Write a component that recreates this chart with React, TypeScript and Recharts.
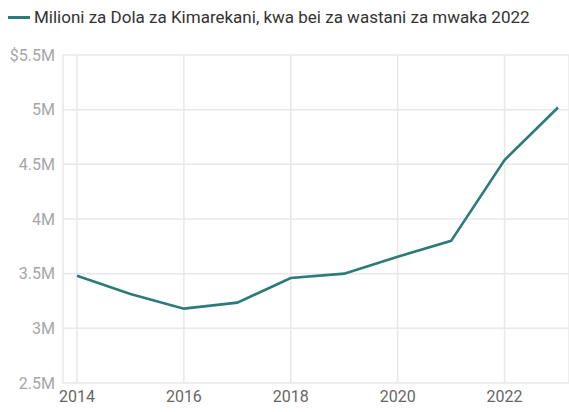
import { LineChart, Line, XAxis, YAxis, CartesianGrid, Legend } from 'recharts'

const LINE_COLOR = '#2b7b79'
const GRID_COLOR = '#e8e8e8'
const SERIES_NAME = 'Milioni za Dola za Kimarekani, kwa bei za wastani za mwaka 2022'

const years = [2014, 2015, 2016, 2017, 2018, 2019, 2020, 2021, 2022, 2023]
const values = [3.48, 3.315, 3.18, 3.235, 3.46, 3.5, 3.655, 3.8, 4.54, 5.02]
const xTicks = [2014, 2016, 2018, 2020, 2022]
const yTicks = [2.5, 3, 3.5, 4, 4.5, 5, 5.5]

const data = years.map((year, i) => ({ year, value: values[i] }))

const formatY = (v: number) => (v === 5.5 ? `$${v}M` : `${v}M`)

function LegendContent() {
  return (
    <div style={{ display: 'flex', alignItems: 'center', paddingLeft: 8, paddingTop: 2 }}>
      <div style={{ width: 22, height: 3, background: LINE_COLOR, marginRight: 4 }} />
      <span style={{ fontSize: 17, color: '#333', fontFamily: 'Roboto, sans-serif' }}>{SERIES_NAME}</span>
    </div>
  )
}

export default function App() {
  return (
    <div style={{ position: 'absolute', top: 0, left: 0, fontFamily: 'Roboto, sans-serif' }}>
      <LineChart width={569} height={412} data={data} margin={{ top: 5, right: 0, left: 0, bottom: 0 }}>
        <Legend verticalAlign="top" align="left" height={50} content={<LegendContent />} />
        <CartesianGrid stroke={GRID_COLOR} strokeWidth={1.5} />
        <XAxis
          dataKey="year" type="number" domain={[2014, 2023]} ticks={xTicks}
          padding={{ left: 14, right: 11 }} axisLine={false} tickLine={false} height={29}
          tick={{ fill: '#666', fontSize: 16 }}
        />
        <YAxis
          domain={[2.5, 5.5]} ticks={yTicks} tickFormatter={formatY}
          axisLine={false} tickLine={false} width={63}
          tick={{ fill: '#a6a6a6', fontSize: 16 }}
        />
        <Line
          type="linear" dataKey="value" name={SERIES_NAME} stroke={LINE_COLOR}
          strokeWidth={2.6} dot={false} isAnimationActive={false}
        />
      </LineChart>
    </div>
  )
}
